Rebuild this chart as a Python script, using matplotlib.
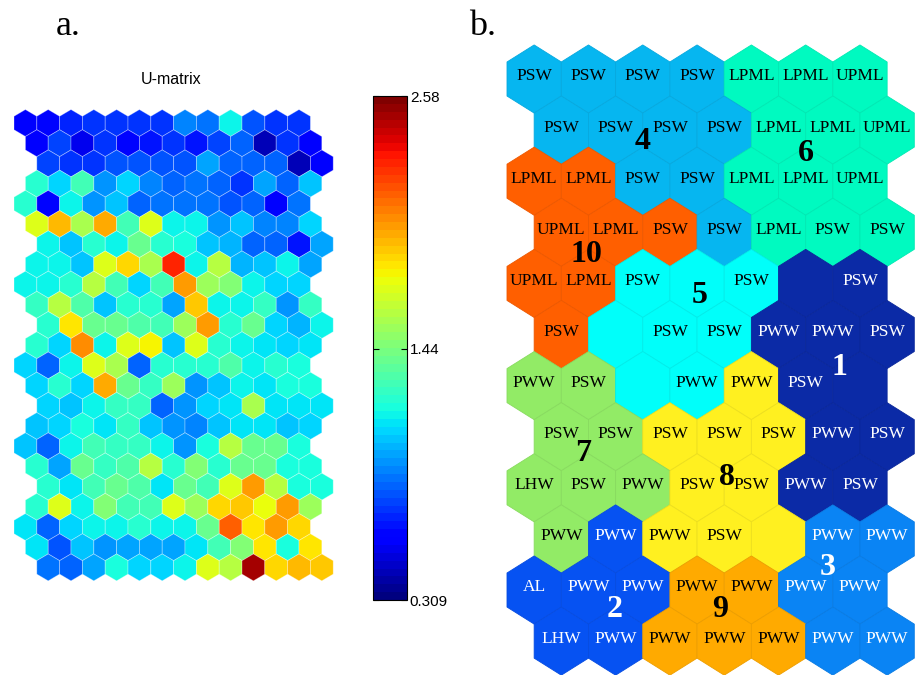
import numpy as np
import matplotlib
matplotlib.use('Agg')
import matplotlib.pyplot as plt
from matplotlib.collections import PolyCollection
from matplotlib.colors import Normalize, to_rgb
from matplotlib.cm import ScalarMappable

# U-matrix (23 rows x 13 columns), top row first
umat = [
    [0.56, 0.60, 0.68, 0.72, 0.72, 0.72, 0.73, 0.90, 0.85, 1.13, 0.78, 0.72, 0.73],
    [0.56, 0.76, 0.54, 0.72, 0.60, 0.63, 0.71, 0.66, 0.76, 0.82, 0.45, 0.72, 0.57],
    [0.76, 0.72, 0.73, 0.78, 0.78, 0.78, 0.80, 0.97, 0.84, 0.84, 0.83, 0.45, 0.57],
    [1.22, 1.07, 1.27, 0.94, 1.08, 0.90, 0.84, 0.87, 0.84, 0.72, 0.97, 0.84, 1.02],
    [1.22, 0.60, 1.16, 0.92, 1.04, 0.84, 0.87, 0.87, 0.87, 0.80, 0.82, 0.57, 0.87],
    [1.72, 1.94, 1.56, 1.97, 1.28, 1.70, 1.16, 1.15, 0.94, 1.04, 0.90, 0.90, 1.07],
    [1.16, 1.04, 1.23, 1.13, 1.40, 1.20, 1.17, 1.05, 1.00, 0.84, 0.84, 0.66, 0.97],
    [1.13, 1.16, 1.05, 1.72, 1.86, 1.56, 2.29, 1.16, 1.62, 1.00, 1.05, 1.16, 0.97],
    [1.13, 1.15, 1.22, 1.62, 1.30, 1.07, 1.30, 2.01, 1.53, 1.47, 1.13, 1.07, 1.08],
    [1.24, 1.60, 1.31, 1.04, 1.21, 1.21, 0.98, 1.88, 1.16, 1.16, 1.24, 0.94, 1.24],
    [1.23, 1.80, 1.40, 1.40, 1.31, 1.29, 1.53, 1.98, 1.22, 1.40, 1.08, 1.00, 1.13],
    [1.23, 1.07, 2.03, 1.16, 1.72, 1.77, 1.05, 1.70, 1.21, 1.13, 1.11, 1.08, 1.10],
    [1.07, 0.82, 1.16, 1.72, 1.56, 0.84, 1.21, 1.20, 1.21, 1.31, 1.16, 1.23, 1.17],
    [1.08, 1.23, 1.08, 1.97, 1.40, 1.26, 1.53, 0.94, 1.04, 1.16, 1.12, 1.17, 1.19],
    [1.07, 1.02, 1.16, 1.26, 1.25, 0.82, 0.94, 1.07, 1.10, 1.56, 1.12, 1.10, 1.12],
    [1.05, 1.07, 1.19, 1.10, 1.25, 1.05, 0.94, 0.90, 1.05, 1.10, 1.12, 1.05, 1.07],
    [1.05, 0.82, 1.13, 1.28, 1.26, 1.26, 1.16, 0.92, 1.17, 1.62, 1.40, 1.40, 1.17],
    [1.21, 0.98, 1.40, 1.25, 1.31, 1.60, 1.21, 1.45, 1.23, 1.39, 1.40, 1.17, 1.19],
    [1.20, 1.10, 1.30, 1.40, 1.31, 1.12, 1.40, 1.30, 1.72, 2.00, 1.62, 1.17, 1.19],
    [1.21, 1.70, 1.16, 1.46, 1.28, 1.29, 1.70, 1.53, 1.86, 1.88, 1.75, 2.00, 1.53],
    [1.10, 0.82, 1.07, 1.13, 1.16, 1.21, 1.15, 1.16, 1.40, 2.13, 1.81, 2.01, 1.84],
    [1.11, 0.80, 1.02, 0.92, 0.98, 0.98, 0.97, 1.11, 1.30, 1.46, 1.80, 1.17, 1.81],
    [0.87, 0.84, 0.97, 1.19, 1.07, 1.07, 1.13, 1.72, 1.60, 2.50, 1.86, 1.94, 1.88],
]
umat_min, umat_max = 0.309, 2.58
cbar_ticks = [0.309, 1.44, 2.58]
cbar_labels = ['0.309', '1.44', '2.58']

# SOM map 12 x 7: cluster of each unit and its water mass label
clusters = [
    [4, 4, 4, 4, 6, 6, 6],
    [4, 4, 4, 4, 6, 6, 6],
    [10, 10, 4, 4, 6, 6, 6],
    [10, 10, 10, 4, 6, 6, 6],
    [10, 10, 5, 5, 5, 1, 1],
    [10, 5, 5, 5, 1, 1, 1],
    [7, 7, 5, 5, 8, 1, 1],
    [7, 7, 8, 8, 8, 1, 1],
    [7, 7, 7, 8, 8, 1, 1],
    [7, 2, 8, 8, 8, 3, 3],
    [2, 2, 2, 9, 9, 3, 3],
    [2, 2, 9, 9, 9, 3, 3],
]
labels = [
    ['PSW', 'PSW', 'PSW', 'PSW', 'LPML', 'LPML', 'UPML'],
    ['PSW', 'PSW', 'PSW', 'PSW', 'LPML', 'LPML', 'UPML'],
    ['LPML', 'LPML', 'PSW', 'PSW', 'LPML', 'LPML', 'UPML'],
    ['UPML', 'LPML', 'PSW', 'PSW', 'LPML', 'PSW', 'PSW'],
    ['UPML', 'LPML', 'PSW', '', 'PSW', '', 'PSW'],
    ['PSW', '', 'PSW', 'PSW', 'PWW', 'PWW', 'PSW'],
    ['PWW', 'PSW', '', 'PWW', 'PWW', 'PSW', ''],
    ['PSW', 'PSW', 'PSW', 'PSW', 'PSW', 'PWW', 'PSW'],
    ['LHW', 'PSW', 'PWW', 'PSW', 'PSW', 'PWW', 'PSW'],
    ['PWW', 'PWW', 'PWW', 'PSW', '', 'PWW', 'PWW'],
    ['AL', 'PWW', 'PWW', 'PWW', 'PWW', 'PWW', 'PWW'],
    ['LHW', 'PWW', 'PWW', 'PWW', 'PWW', 'PWW', 'PWW'],
]
cluster_colors = {
    1: '#0B2AA6', 2: '#0652F2', 3: '#0A84F4', 4: '#06B6F0', 5: '#00FFFA',
    6: '#00FAC0', 7: '#92EB66', 8: '#FFF020', 9: '#FFAA00', 10: '#FF5F00',
}
dark_clusters = [1, 2, 3]
# where the cluster numbers sit (map units)
cluster_label_pos = {
    4: (2.0, 1.23), 6: (5.0, 1.45), 10: (0.97, 3.44), 5: (3.04, 4.23),
    1: (5.63, 5.64), 7: (0.9, 7.32), 8: (3.55, 7.79), 3: (5.41, 9.55),
    2: (1.49, 10.39), 9: (3.42, 10.39),
}


def hexagon(x, y):
    return [(x, y - 2 / 3), (x + 0.5, y - 1 / 3), (x + 0.5, y + 1 / 3),
            (x, y + 2 / 3), (x - 0.5, y + 1 / 3), (x - 0.5, y - 1 / 3)]


W, H = 917, 675
fig = plt.figure(figsize=(W / 100, H / 100), dpi=100)

# ---- a. U-matrix
ax = fig.add_axes([0, (H - 600) / H, 360 / W, 500 / H])
shift = [0, 0.5, 1, 0.5]
verts, vals = [], []
for r, row in enumerate(umat):
    for c, v in enumerate(row):
        verts.append(hexagon(c + shift[r % 4], r))
        vals.append(v)
cmap = plt.get_cmap('jet', 64)
norm = Normalize(umat_min, umat_max)
pc = PolyCollection(verts, array=np.array(vals), cmap=cmap, norm=norm,
                    edgecolors=(1, 1, 1, 0.35), linewidths=0.6)
ax.add_collection(pc)
ax.set_xlim(-1.114, 14.675)
ax.set_ylim(23.614, -1.139)
ax.axis('off')

fig.text(171 / W, 1 - 80 / H, 'U-matrix', ha='center', va='center',
         fontsize=11.5, family='Liberation Sans')

cax = fig.add_axes([373 / W, (H - 600) / H, 34 / W, 504 / H])
cb = fig.colorbar(ScalarMappable(norm=norm, cmap=cmap), cax=cax, ticks=cbar_ticks)
cb.ax.set_yticklabels(cbar_labels, family='Liberation Sans', fontsize=11)
cb.outline.set_linewidth(0.8)
cax.yaxis.set_ticks_position('both')
cax.tick_params(axis='y', direction='in', length=4, width=0.8, pad=2,
                labelleft=False, labelright=True)

# ---- b. clusters
bx = fig.add_axes([490 / W, 0, 427 / W, 645 / H])
bverts, bface, bedge = [], [], []
for r, row in enumerate(clusters):
    for c, k in enumerate(row):
        x = c + 0.5 * (r % 2)
        bverts.append(hexagon(x, r))
        rgb = np.array(to_rgb(cluster_colors[k]))
        bface.append(rgb)
        bedge.append(rgb * 0.93)
        txt = labels[r][c]
        if txt:
            col = 'white' if k in dark_clusters else 'black'
            bx.text(x, r - 0.05, txt, ha='center', va='center', color=col,
                    fontsize=12.5, family='Liberation Serif')
bx.add_collection(PolyCollection(bverts, facecolors=bface, edgecolors=bedge,
                                 linewidths=0.6))
for k, (x, y) in cluster_label_pos.items():
    col = 'white' if k in dark_clusters else 'black'
    bx.text(x, y, str(k), ha='center', va='center', color=col, fontsize=23,
            fontweight='bold', family='Liberation Serif')
bx.set_xlim(-0.813, 7.05)
bx.set_ylim(11.663, -0.959)
bx.axis('off')

fig.text(68 / W, 1 - 35 / H, 'a.', ha='center', va='baseline', fontsize=26,
         family='Liberation Serif')
fig.text(483 / W, 1 - 35 / H, 'b.', ha='center', va='baseline', fontsize=26,
         family='Liberation Serif')

fig.savefig('out.png', dpi=100)
